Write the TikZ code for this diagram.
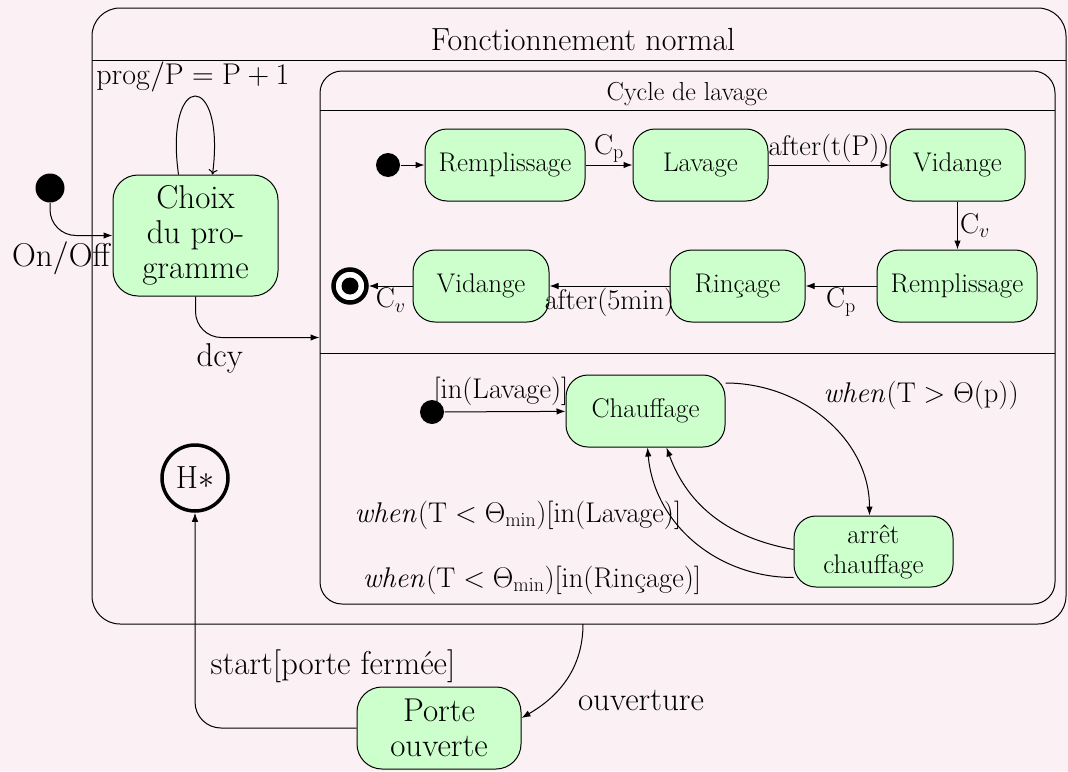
\RequirePackage{fix-cm}
\documentclass[tikz,border=0pt]{standalone}
\usetikzlibrary{arrows.meta}
\definecolor{bgpink}{RGB}{251,240,244}
\definecolor{stgreen}{RGB}{204,255,204}
\newcommand\fBig{\fontsize{33}{35}\selectfont}
\newcommand\fTitle{\fontsize{32}{36}\selectfont}
\newcommand\fSm{\fontsize{27}{30}\selectfont}
\newcommand\fCyc{\fontsize{26}{30}\selectfont}
\newcommand\fLab{\fontsize{28.5}{32}\selectfont}
\newcommand\fProg{\fontsize{30}{34}\selectfont}
\begin{document}
\begin{tikzpicture}[x=1pt, y=-1pt, line width=1pt,
  >={Latex[length=9pt,width=6.5pt]},
  state/.style={draw, fill=stgreen, rounded corners=22pt, align=center, inner sep=0pt, font=\fSm, minimum height=72pt},
  bigstate/.style={draw, fill=stgreen, rounded corners=25pt, align=center, inner sep=0pt, font=\fBig},
  initdot/.style={circle, fill=black, inner sep=0pt, minimum size=#1},
  lab/.style={inner sep=2pt, font=\fLab},
  olab/.style={inner sep=2pt, font=\fBig},
  frame/.style={draw, rectangle, inner sep=0pt}]
\useasboundingbox (0,0) rectangle (1068,771);
\fill[bgpink] (0,0) rectangle (1068,771);

% outer composite state
\node[frame, rounded corners=28pt, minimum width=974pt, minimum height=616pt] (fn) at (579,316) {};
\draw (92,60) -- (1066,60);
\node[font=\fTitle] (fntitle) at (583,40) {Fonctionnement normal};

% inner composite state
\node[frame, rounded corners=22pt, minimum width=735pt, minimum height=533pt] (cycle) at (687.5,337.5) {};
\draw (320,110) -- (1055,110);
\draw (320,353) -- (1055,353);
\node[font=\fCyc] (cytitle) at (687,94) {Cycle de lavage};

% left part
\node[initdot=29pt] (dot0) at (50,188) {};
\node[bigstate, minimum width=165pt, minimum height=121pt] (choix) at (195.5,235.5) {Choix\\du pro-\\gramme};
\node[circle, draw, line width=3.5pt, minimum size=66pt, inner sep=0pt, font=\fTitle] (hstar) at (195,478) {$\mathrm{H}{*}$};
\node[bigstate, minimum width=164pt, minimum height=82pt] (porte) at (439,728) {Porte\\ouverte};

\draw[-{To[length=5pt,width=9pt]}] ([xshift=-17pt]choix.north) .. controls (164,70) and (226,70) .. ([xshift=17pt]choix.north);
\node[inner sep=2pt, font=\fProg] (lprog) at (193,77) {$\mathrm{prog}/\mathrm{P}=\mathrm{P}+1$};

\draw[->, rounded corners=26pt] (dot0.south) |- (choix.west);
\node[olab] (lonoff) at (62,258) {$\mathrm{On}/\mathrm{Off}$};

\draw[->, rounded corners=26pt] (choix.south) |- (cycle.west);
\node[olab] (ldcy) at (220,358) {$\mathrm{dcy}$};

\draw[->, rounded corners=26pt] (porte.west) -| (hstar.south);
\node[olab] (lstart) at (333,666) {$\mathrm{start}$[porte fermée]};

\coordinate (ouv) at (583,624);
\draw[->] (ouv) to[out=-90,in=30] ([yshift=10pt]porte.east);
\node[olab] (louv) at (641,700) {ouverture};

% washing cycle
\node[initdot=24pt] (dot1) at (388,165) {};
\node[state, minimum width=160pt] (rem1) at (505,165) {Remplissage};
\node[state, minimum width=135pt] (lav) at (700.5,165) {Lavage};
\node[state, minimum width=135pt] (vid1) at (957.5,165) {Vidange};
\node[state, minimum width=160pt] (rem2) at (957,286) {Remplissage};
\node[state, minimum width=135pt] (rin) at (737.5,286) {Rinçage};
\node[state, minimum width=136pt] (vid2) at (481,286) {Vidange};
\node[circle, draw, line width=4.5pt, fill=white, minimum size=33pt, inner sep=0pt] (fin) at (350,286) {};
\fill (fin.center) circle (8.5pt);

\draw[->] (dot1) -- (rem1);
\draw[->] (rem1) -- node[lab, above] {$\mathrm{C}_{\mathrm{p}}$} (lav);
\draw[->] (lav) -- node[lab, above] {$\mathrm{after}(\mathrm{t}(\mathrm{P}))$} (vid1);
\draw[->] (vid1.south) -- node[lab, right] {$\mathrm{C}_{v}$} (vid1.south |- rem2.north);
\draw[->] (rem2) -- node[lab, below] {$\mathrm{C}_{\mathrm{p}}$} (rin);
\draw[->] (rin) -- node[lab, below] {$\mathrm{after}(5\mathrm{min})$} (vid2);
\draw[->] (vid2) -- node[lab, below] {$\mathrm{C}_{v}$} (fin);

% heating
\node[initdot=24pt] (dot2) at (432,412) {};
\node[state, minimum width=159pt] (chauf) at (645.5,411) {Chauffage};
\node[state, minimum width=159pt, minimum height=71pt] (arret) at (873.5,551.5) {arrêt\\chauffage};

\draw[->] (dot2) -- (chauf);
\node[lab] (lin) at (501,391) {$[\mathrm{in}(\mathrm{Lavage})]$};
\draw[->] ([yshift=28pt]chauf.east) to[out=0,in=90] ([xshift=-4pt]arret.north);
\node[lab] (lwhen1) at (921,395) {$\mathit{when}(\mathrm{T}>\Theta(\mathrm{p}))$};
\draw[->] ([yshift=2pt]arret.west) to[out=170,in=-70] ([xshift=21pt]chauf.south);
\draw[->] ([yshift=-26pt]arret.west) to[out=180,in=-85] ([xshift=2pt]chauf.south);
\node[lab] (lwhen2) at (518,515) {$\mathit{when}(\mathrm{T}<\Theta_{\mathrm{min}})[\mathrm{in}(\mathrm{Lavage})]$};
\node[lab] (lwhen3) at (532,580) {$\mathit{when}(\mathrm{T}<\Theta_{\mathrm{min}})[\mathrm{in}(\mbox{Rinçage})]$};
\end{tikzpicture}
\end{document}
